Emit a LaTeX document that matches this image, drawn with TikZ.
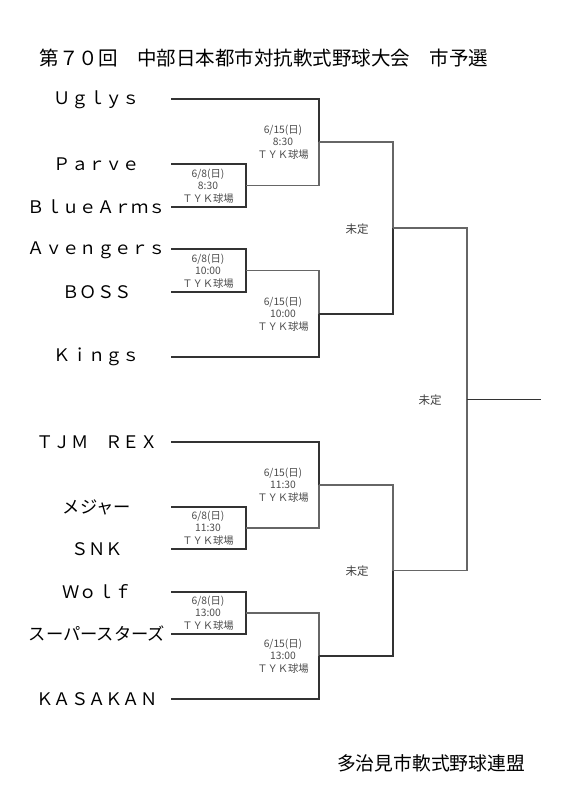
\documentclass[tikz,border=0pt]{standalone}
\usepackage{fontspec}
\setmainfont{Noto Sans CJK JP}
\newfontfamily\jp{Noto Sans CJK JP}
\begin{document}
\begin{tikzpicture}[x=1pt,y=-1pt,
  team/.style={font=\jp\fontsize{17.3}{20}\selectfont,text=black,inner sep=0pt,anchor=center},
  info/.style={font=\jp\fontsize{10.3}{12.5}\selectfont,text=black!70,align=center,inner sep=0pt},
  tbd/.style={font=\jp\fontsize{11.5}{13}\selectfont,text=black!75,inner sep=0pt},
  br/.style={draw=black!80,line width=1.1pt},
  brg/.style={draw=black!60,line width=1.1pt}]
\useasboundingbox[fill=white] (0,0) rectangle (560,800);
% title and footer
\node[font=\jp\fontsize{19.5}{22}\selectfont,inner sep=0pt] (title) at (264,58) {第７０回　中部日本都市対抗軟式野球大会　市予選};
\node[font=\jp\fontsize{18.8}{22}\selectfont,inner sep=0pt] (footer) at (431,763) {多治見市軟式野球連盟};
% teams
\node[team] (nu)  at (97,100) {Ｕｇｌｙｓ};
\node[team] (np)  at (97,164) {Ｐａｒｖｅ};
\node[team] (nba) at (97,207) {ＢｌｕｅＡｒｍｓ};
\node[team] (nav) at (97,250) {Ａｖｅｎｇｅｒｓ};
\node[team] (nbo) at (97,292) {ＢＯＳＳ};
\node[team] (nk)  at (97,357) {Ｋｉｎｇｓ};
\node[team] (nt)  at (97,442) {ＴＪＭ　ＲＥＸ};
\node[team] (nme) at (97,507) {メジャー};
\node[team] (ns)  at (97,549) {ＳＮＫ};
\node[team] (nw)  at (97,592) {Ｗｏｌｆ};
\node[team] (nss) at (97,634) {スーパースターズ};
\node[team] (nka) at (97,699) {ＫＡＳＡＫＡＮ};
% line starts
\coordinate (u)  at (171,99);
\coordinate (p)  at (171,164);
\coordinate (ba) at (171,207);
\coordinate (av) at (171,249);
\coordinate (bo) at (171,292);
\coordinate (k)  at (171,357);
\coordinate (t)  at (171,442);
\coordinate (me) at (171,507);
\coordinate (s)  at (171,549);
\coordinate (w)  at (171,592);
\coordinate (ss) at (171,634);
\coordinate (ka) at (171,699);
% joints
\coordinate (j1a) at (246,185.5);
\coordinate (j1b) at (246,270.5);
\coordinate (j1c) at (246,528);
\coordinate (j1d) at (246,613);
\coordinate (j2a) at (319,142);
\coordinate (j2b) at (319,314);
\coordinate (j2c) at (319,485);
\coordinate (j2d) at (319,656);
\coordinate (j3a) at (393,228);
\coordinate (j3b) at (393,570.5);
\coordinate (j4)  at (467,399.5);
\coordinate (fin) at (541,399.5);
% round 1
\draw[br] (p) -| (j1a) |- (ba);
\draw[br] (av) -| (j1b) |- (bo);
\draw[br] (me) -| (j1c) |- (s);
\draw[br] (w) -| (j1d) |- (ss);
% round 2
\draw[brg] (j1a) -| (j2a);
\draw[br] (u) -| (j2a);
\draw[brg] (j1b) -| (j2b);
\draw[br] (k) -| (j2b);
\draw[brg] (j1c) -| (j2c);
\draw[br] (t) -| (j2c);
\draw[brg] (j1d) -| (j2d);
\draw[br] (ka) -| (j2d);
% round 3
\draw[brg] (j2a) -| (j3a);
\draw[br] (j2b) -| (j3a);
\draw[brg] (j2c) -| (j3b);
\draw[br] (j2d) -| (j3b);
% final
\draw[brg] (j3a) -| (j4);
\draw[brg] (j3b) -| (j4);
\draw[br] (j4) -- (fin);
% info labels
\node[info] (i1a) at (208,186) {6/8(日)\\8:30\\ＴＹＫ球場};
\node[info] (i1b) at (208,271) {6/8(日)\\10:00\\ＴＹＫ球場};
\node[info] (i1c) at (208,528) {6/8(日)\\11:30\\ＴＹＫ球場};
\node[info] (i1d) at (208,613) {6/8(日)\\13:00\\ＴＹＫ球場};
\node[info] (i2a) at (283,142) {6/15(日)\\8:30\\ＴＹＫ球場};
\node[info] (i2b) at (283,314) {6/15(日)\\10:00\\ＴＹＫ球場};
\node[info] (i2c) at (283,485) {6/15(日)\\11:30\\ＴＹＫ球場};
\node[info] (i2d) at (283,656) {6/15(日)\\13:00\\ＴＹＫ球場};
\node[tbd] (u1) at (357,229) {未定};
\node[tbd] (u2) at (430,400) {未定};
\node[tbd] (u3) at (357,571) {未定};
\end{tikzpicture}
\end{document}
